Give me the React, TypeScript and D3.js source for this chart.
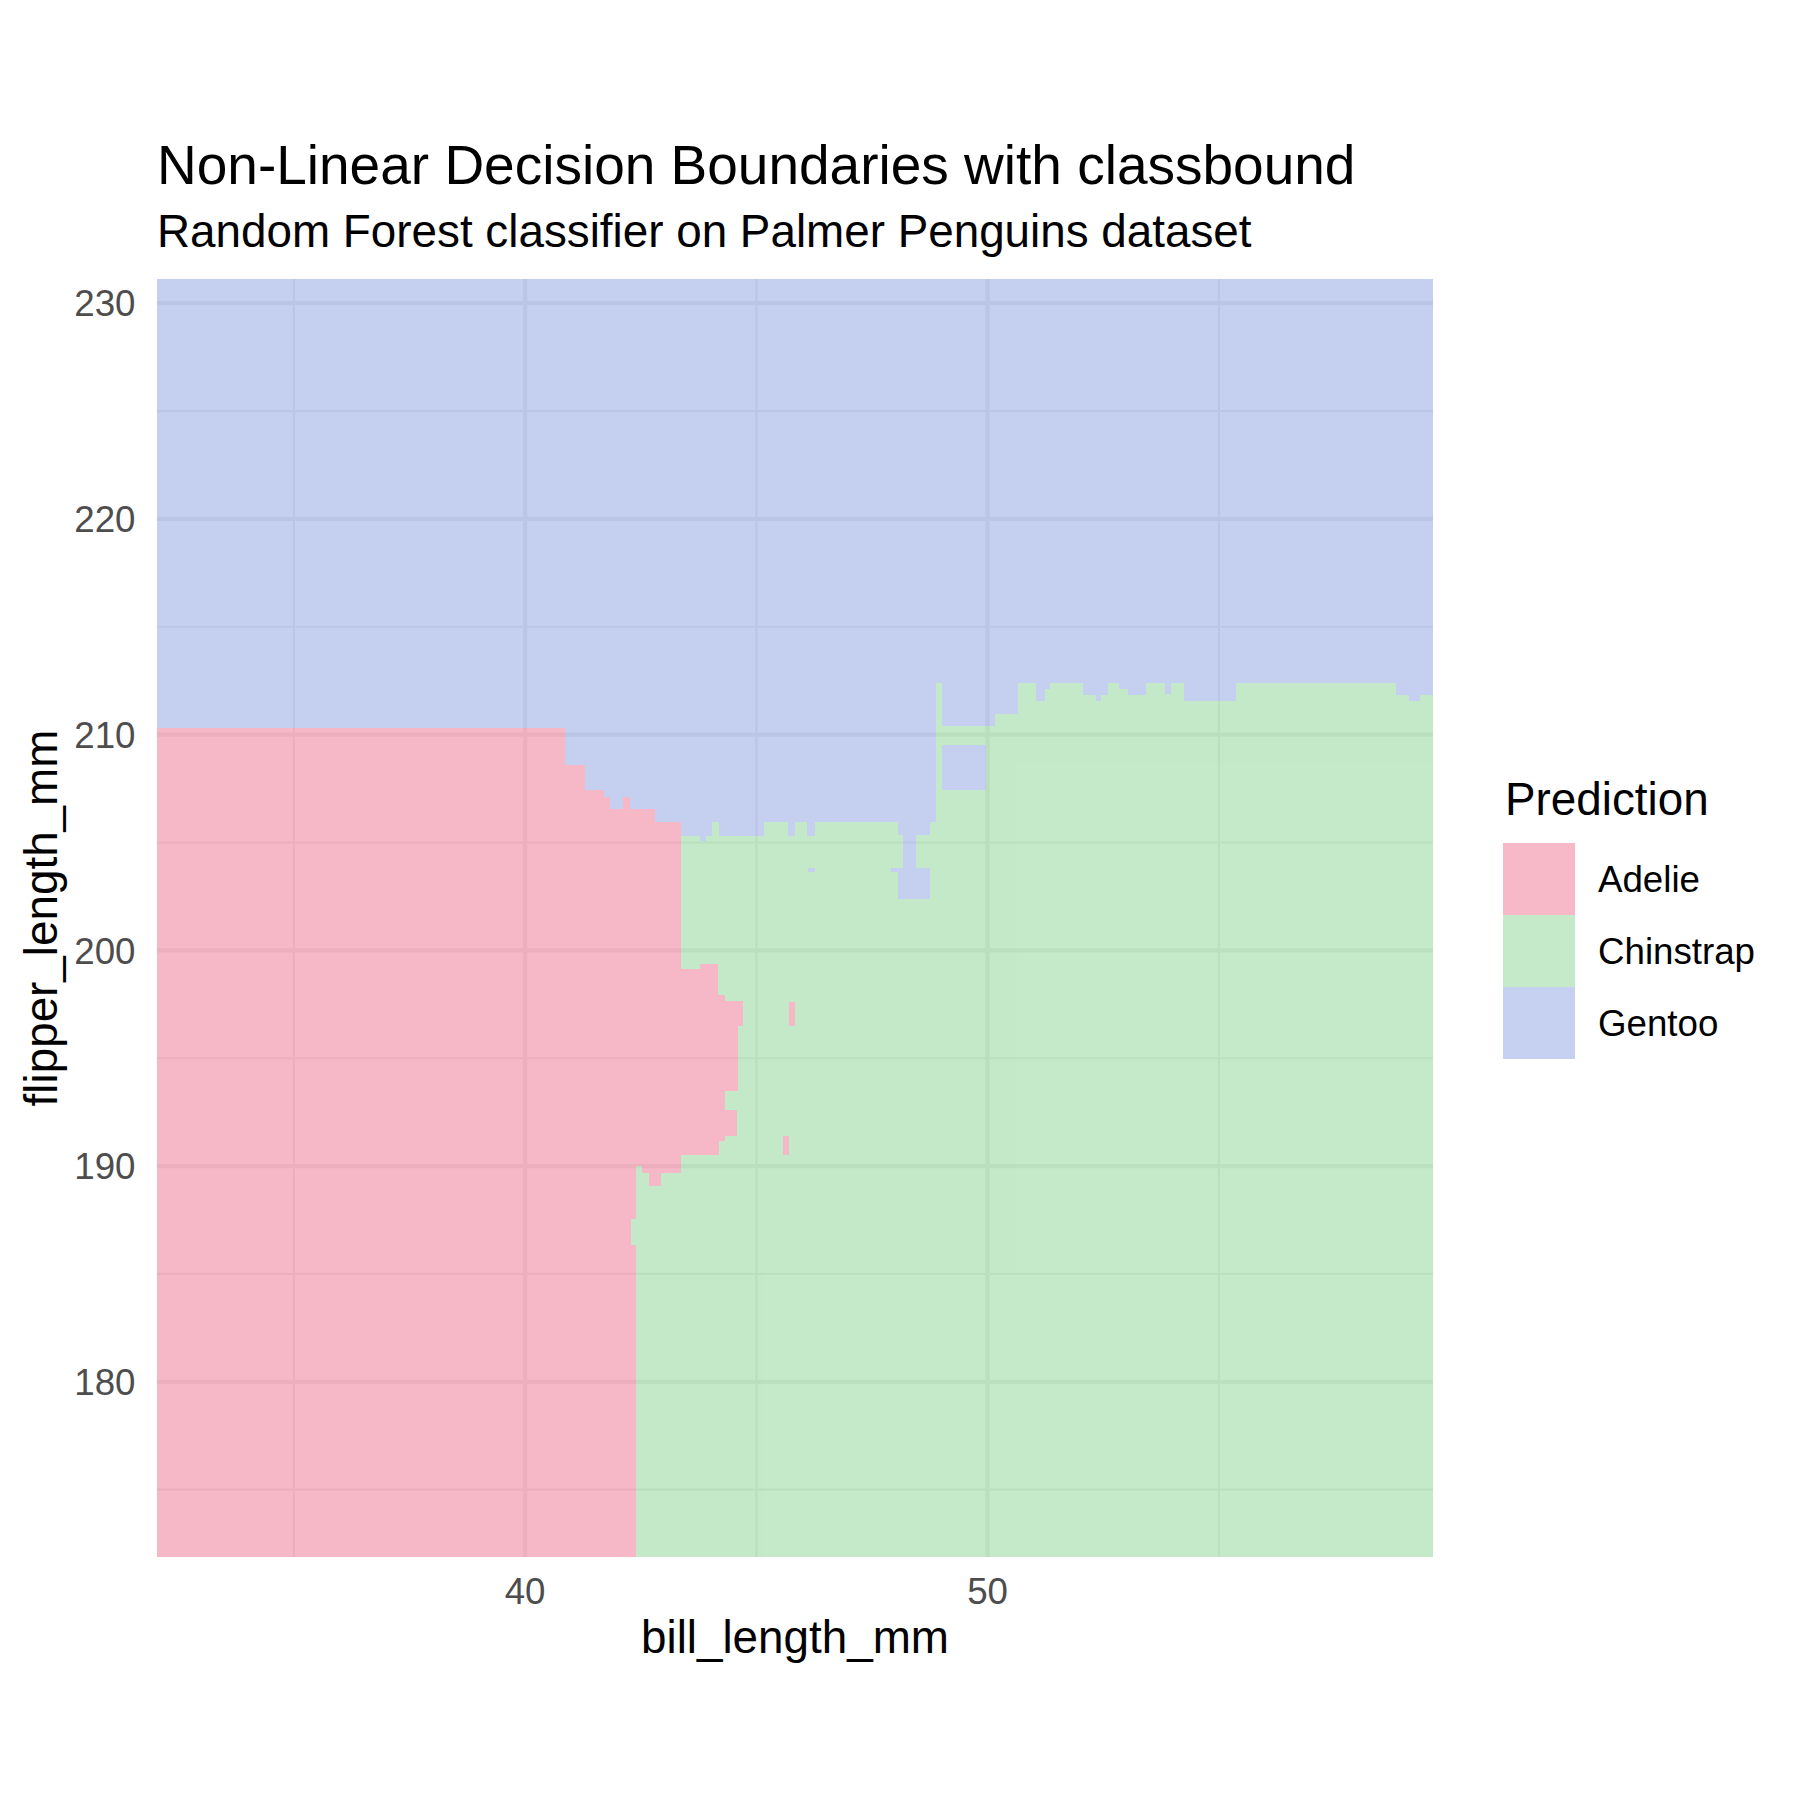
import React from 'react';
import { scaleLinear } from 'd3';

// prediction classes and fills
const species = ['Adelie', 'Chinstrap', 'Gentoo'];
const speciesFill: Record<string, string> = {
  Adelie: '#EF7391',
  Chinstrap: '#8BD593',
  Gentoo: '#8DA1E1',
};

const xDomain = [32.04, 59.63];
const yDomain = [171.88, 231.12];

// Adelie region, row by row: [yLow, yHigh, xRight]
const adelieRows: [number, number, number][] = [
  [171.88, 186.35, 42.39],
  [186.35, 187.55, 42.28],
  [187.55, 190.02, 42.39],
  [190.02, 190.53, 43.37],
  [190.53, 191.15, 44.19],
  [191.15, 191.38, 44.32],
  [191.38, 192.62, 44.58],
  [192.62, 193.46, 44.32],
  [193.46, 196.48, 44.6],
  [196.48, 197.64, 44.71],
  [197.64, 197.95, 44.32],
  [197.95, 199.14, 44.17],
  [199.14, 210.33, 43.37],
];

// Gentoo region, column by column: [xLow, xHigh, yLow]
const gentooCols: [number, number, number][] = [
  [32.04, 40.87, 210.33],
  [40.87, 41.29, 208.59],
  [41.29, 41.7, 207.43],
  [41.7, 41.83, 207.09],
  [41.83, 42.11, 206.53],
  [42.11, 42.26, 207.09],
  [42.26, 42.8, 206.53],
  [42.8, 43.38, 205.93],
  [43.38, 43.78, 205.32],
  [43.78, 43.9, 205.06],
  [43.9, 44.05, 205.32],
  [44.05, 44.19, 205.93],
  [44.19, 45.16, 205.32],
  [45.16, 45.68, 205.93],
  [45.68, 45.84, 205.32],
  [45.84, 46.1, 205.93],
  [46.1, 46.26, 205.32],
  [46.26, 48.06, 205.93],
  [48.06, 48.18, 205.35],
  [48.18, 48.46, 203.84],
  [48.46, 48.75, 205.35],
  [48.75, 48.88, 205.93],
  [48.88, 49.01, 212.41],
  [49.01, 50.15, 210.39],
  [50.15, 50.65, 210.94],
  [50.65, 51.05, 212.41],
  [51.05, 51.23, 211.55],
  [51.23, 51.35, 212.1],
  [51.35, 52.06, 212.41],
  [52.06, 52.35, 211.86],
  [52.35, 52.46, 211.55],
  [52.46, 52.6, 211.86],
  [52.6, 52.85, 212.41],
  [52.85, 53.03, 212.1],
  [53.03, 53.43, 211.86],
  [53.43, 53.83, 212.41],
  [53.83, 53.97, 211.9],
  [53.97, 54.24, 212.41],
  [54.24, 55.38, 211.55],
  [55.38, 58.83, 212.41],
  [58.83, 59.12, 211.86],
  [59.12, 59.34, 211.55],
  [59.34, 59.63, 211.83],
];

// small patches: [class, xLow, xHigh, yLow, yHigh]
const islands: [string, number, number, number, number][] = [
  ['Gentoo', 48.06, 48.75, 202.36, 203.61],
  ['Gentoo', 47.92, 48.75, 203.61, 203.84],
  ['Gentoo', 49.01, 49.97, 207.43, 209.5],
  ['Gentoo', 46.11, 46.26, 203.61, 203.84],
  ['Adelie', 45.7, 45.84, 196.48, 197.61],
  ['Adelie', 45.58, 45.7, 190.53, 191.41],
  ['Adelie', 43.78, 44.17, 199.14, 199.39],
  ['Adelie', 42.52, 43.37, 189.68, 190.02],
  ['Adelie', 42.68, 42.93, 189.06, 189.68],
];

const xMajor = [40, 50];
const xMinor = [35, 45, 55];
const yMajor = [180, 190, 200, 210, 220, 230];
const yMinor = [175, 185, 195, 205, 215, 225];

const FONT = "'Liberation Sans', Arial, Helvetica, sans-serif";

export default function App() {
  const left = 157;
  const right = 1433;
  const top = 279;
  const bottom = 1557;

  const x = scaleLinear().domain(xDomain).range([left, right]);
  const y = scaleLinear().domain(yDomain).range([bottom, top]);

  const cell = (key: string, cls: string, x0: number, x1: number, y0: number, y1: number) => (
    <rect
      key={key}
      x={x(x0)}
      y={y(y1)}
      width={x(x1) - x(x0)}
      height={y(y0) - y(y1)}
      fill={speciesFill[cls]}
    />
  );

  return (
    <svg
      width={1800}
      height={1800}
      style={{ position: 'absolute', left: 0, top: 0, background: '#fff' }}
      fontFamily={FONT}
    >
      <rect x={0} y={0} width={1800} height={1800} fill="#fff" />

      {/* grid */}
      <g stroke="#EBEBEB">
        {xMinor.map(v => (
          <line key={'xm' + v} x1={x(v)} x2={x(v)} y1={top} y2={bottom} strokeWidth={2.2} />
        ))}
        {yMinor.map(v => (
          <line key={'ym' + v} x1={left} x2={right} y1={y(v)} y2={y(v)} strokeWidth={2.2} />
        ))}
        {xMajor.map(v => (
          <line key={'xM' + v} x1={x(v)} x2={x(v)} y1={top} y2={bottom} strokeWidth={4.4} />
        ))}
        {yMajor.map(v => (
          <line key={'yM' + v} x1={left} x2={right} y1={y(v)} y2={y(v)} strokeWidth={4.4} />
        ))}
      </g>

      {/* prediction surface */}
      <g opacity={0.5} shapeRendering="crispEdges">
        {cell('bg', 'Chinstrap', xDomain[0], xDomain[1], yDomain[0], yDomain[1])}
        {adelieRows.map((r, i) => cell('a' + i, 'Adelie', xDomain[0], r[2], r[0], r[1]))}
        {gentooCols.map((c, i) => cell('g' + i, 'Gentoo', c[0], c[1], c[2], yDomain[1]))}
        {islands.map((s, i) => cell('i' + i, s[0], s[1], s[2], s[3], s[4]))}
      </g>

      {/* axes text */}
      <g fill="#4D4D4D" fontSize={36.7}>
        {xMajor.map(v => (
          <text key={'xt' + v} x={x(v)} y={1604} textAnchor="middle">
            {v}
          </text>
        ))}
        {yMajor.map(v => (
          <text key={'yt' + v} x={135.5} y={y(v)} dy="0.36em" textAnchor="end">
            {v}
          </text>
        ))}
      </g>
      <text x={(left + right) / 2} y={1653} textAnchor="middle" fontSize={45.8} fill="#000">
        bill_length_mm
      </text>
      <text
        transform={`translate(57, ${(top + bottom) / 2}) rotate(-90)`}
        textAnchor="middle"
        fontSize={45.8}
        fill="#000"
      >
        flipper_length_mm
      </text>

      {/* titles */}
      <text x={left} y={183.5} fontSize={55} fill="#000">
        Non-Linear Decision Boundaries with classbound
      </text>
      <text x={left} y={246.5} fontSize={45.8} fill="#000">
        Random Forest classifier on Palmer Penguins dataset
      </text>

      {/* legend */}
      <text x={1505} y={815} fontSize={45.8} fill="#000">
        Prediction
      </text>
      {species.map((s, i) => (
        <g key={s}>
          <rect
            x={1503}
            y={843 + i * 72}
            width={72}
            height={72}
            fill={speciesFill[s]}
            opacity={0.5}
          />
          <text x={1598} y={879 + i * 72} dy="0.36em" fontSize={36.7} fill="#000">
            {s}
          </text>
        </g>
      ))}
    </svg>
  );
}
